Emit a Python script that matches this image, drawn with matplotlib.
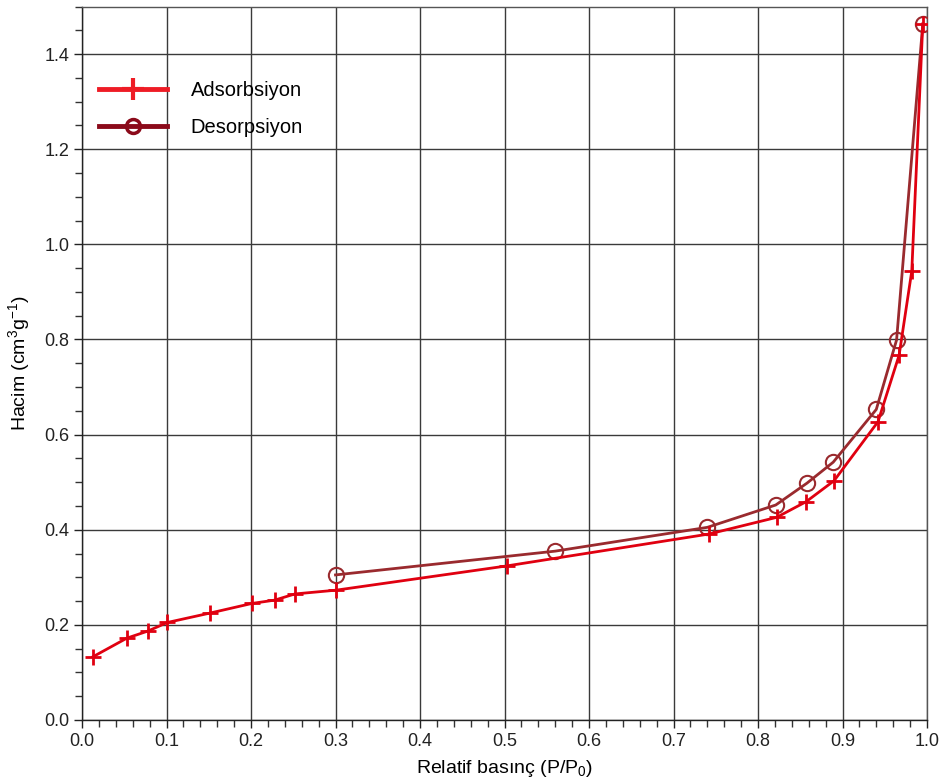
import matplotlib
matplotlib.use("Agg")
import matplotlib.pyplot as plt
from matplotlib.ticker import MultipleLocator, FormatStrFormatter
from matplotlib.lines import Line2D

plt.rcParams['font.family'] = ['Liberation Sans', 'DejaVu Sans']
plt.rcParams['mathtext.fontset'] = 'custom'
plt.rcParams['mathtext.rm'] = 'Liberation Sans'
plt.rcParams['mathtext.it'] = 'Liberation Sans:italic'

# Isotherm data: relative pressure vs adsorbed volume
ads_p = [0.013, 0.053, 0.078, 0.101, 0.152, 0.201, 0.228, 0.252, 0.301,
         0.503, 0.742, 0.822, 0.857, 0.890, 0.942, 0.967, 0.982, 0.995]
ads_v = [0.133, 0.172, 0.187, 0.205, 0.225, 0.245, 0.252, 0.265, 0.273,
         0.324, 0.391, 0.426, 0.459, 0.503, 0.627, 0.767, 0.944, 1.463]

des_p = [0.300, 0.560, 0.740, 0.821, 0.858, 0.889, 0.940, 0.964, 0.995]
des_v = [0.305, 0.355, 0.405, 0.452, 0.498, 0.542, 0.653, 0.799, 1.463]

ads_color = '#e00010'
des_color = '#9a2a2e'

fig = plt.figure(figsize=(9.4, 7.84), dpi=100)
ax = fig.add_axes([82/940, 1-720/784, (927-82)/940, (720-6.5)/784])

ax.set_xlim(0, 1.0)
ax.set_ylim(0, 1.5)
ax.xaxis.set_major_locator(MultipleLocator(0.1))
ax.xaxis.set_minor_locator(MultipleLocator(0.02))
ax.yaxis.set_major_locator(MultipleLocator(0.2))
ax.yaxis.set_minor_locator(MultipleLocator(0.05))
ax.xaxis.set_major_formatter(FormatStrFormatter('%.1f'))
ax.yaxis.set_major_formatter(FormatStrFormatter('%.1f'))

ax.grid(True, which='major', color='#3a3a3a', linewidth=1.0)
ax.set_axisbelow(True)
ax.tick_params(which='major', direction='out', length=6, width=1, labelsize=13,
               colors='#222222', pad=3)
ax.tick_params(which='minor', direction='out', length=5, width=1, colors='#333333')
for s in ax.spines.values():
    s.set_color('#555555')
    s.set_linewidth(1.0)
ax.spines['left'].set_color('#222222')
ax.spines['bottom'].set_color('#222222')

ax.plot(des_p, des_v, color=des_color, linewidth=2.0, marker='o', markersize=11,
        markerfacecolor='none', markeredgecolor=des_color, markeredgewidth=1.5, zorder=3)
ax.plot(ads_p, ads_v, color=ads_color, linewidth=2.0, marker='+', markersize=11,
        markeredgewidth=2.0, zorder=4)

ax.set_xlabel('Relatif basınç (P/P$_0$)', fontsize=14, labelpad=6)
ax.set_ylabel('Hacim (cm$^3$g$^{-1}$)', fontsize=14, labelpad=9)

handles = [
    Line2D([], [], color='#ee1c25', linewidth=3.5, marker='+', markersize=16, markeredgewidth=3),
    Line2D([], [], color='#8b0a1a', linewidth=3.5, marker='o', markersize=10,
           markerfacecolor='none', markeredgewidth=2.5),
]
ax.legend(handles, ['Adsorbsiyon', 'Desorpsiyon'], loc='upper left',
          bbox_to_anchor=(0.020, 0.896), frameon=False, fontsize=14.5,
          borderpad=0, borderaxespad=0,
          handlelength=3.4, handletextpad=1.15, labelspacing=0.9)

fig.savefig('out.png', dpi=100)
